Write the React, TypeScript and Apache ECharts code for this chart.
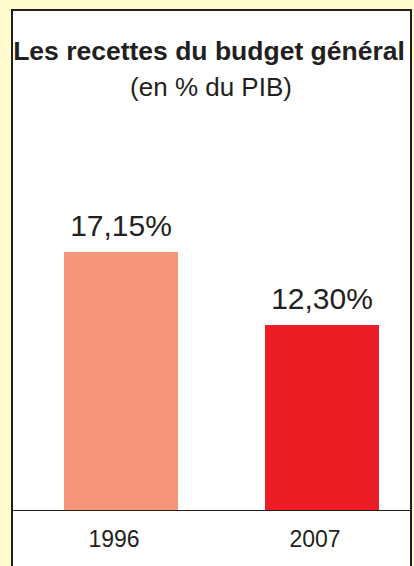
import React, { useEffect, useRef } from "react";
import * as echarts from "echarts";

const categories = ["1996", "2007"];
const values = [17.15, 12.3];
const barColors = ["#F5967A", "#EE1C25"];
const titleText = "Les recettes du budget général";
const subtitleText = "(en % du PIB)";

const FONT = "'Liberation Sans', Arial, Helvetica, sans-serif";
const INK = "#231F20";

export default function App() {
  const ref = useRef<HTMLDivElement>(null);
  useEffect(() => {
    if (!ref.current) return;
    const chart = echarts.init(ref.current, undefined, { renderer: "svg" });
    chart.setOption({
      animation: false,
      backgroundColor: "transparent",
      textStyle: { fontFamily: FONT },
      title: [
        {
          text: titleText,
          left: 209,
          top: 37.5,
          padding: 0,
          textAlign: "center",
          textStyle: { fontFamily: FONT, fontSize: 26.5, fontWeight: "bold", color: INK, lineHeight: 26 },
        },
        {
          text: subtitleText,
          left: 211,
          top: 74,
          padding: 0,
          textAlign: "center",
          textStyle: { fontFamily: FONT, fontSize: 26, fontWeight: "normal", color: INK, lineHeight: 26 },
        },
      ],
      graphic: [
        {
          type: "rect",
          z: -10,
          silent: true,
          shape: { x: 12, y: 10, width: 399, height: 600 },
          style: { fill: "#FFFFFF", stroke: INK, lineWidth: 2 },
        },
        {
          type: "line",
          z: 10,
          silent: true,
          shape: { x1: 12, y1: 510.5, x2: 411, y2: 510.5 },
          style: { stroke: INK, lineWidth: 1.2 },
        },
      ],
      grid: { left: 20.5, width: 402, top: 209, bottom: 56 },
      xAxis: {
        type: "category",
        data: categories,
        axisLine: { show: false },
        axisTick: { show: false },
        axisLabel: {
          fontFamily: FONT,
          fontSize: 23,
          lineHeight: 23,
          color: INK,
          margin: 17,
          padding: [0, 14, 0, 0],
        },
      },
      yAxis: {
        type: "value",
        min: 0,
        max: 20,
        show: false,
        splitLine: { show: false },
      },
      series: [
        {
          type: "bar",
          barWidth: 114,
          data: values.map((v, i) => ({ value: v, itemStyle: { color: barColors[i] } })),
          label: {
            show: true,
            position: "top",
            distance: 11,
            fontFamily: FONT,
            fontSize: 30,
            lineHeight: 30,
            color: INK,
            formatter: (p: any) => p.value.toFixed(2).replace(".", ",") + "%",
          },
        },
      ],
    });
    return () => chart.dispose();
  }, []);
  return (
    <div style={{ position: "fixed", left: 0, top: 0, width: 414, height: 566, background: "#FFFBCC", overflow: "hidden" }}>
      <div ref={ref} style={{ width: 440, height: 566 }} />
    </div>
  );
}
